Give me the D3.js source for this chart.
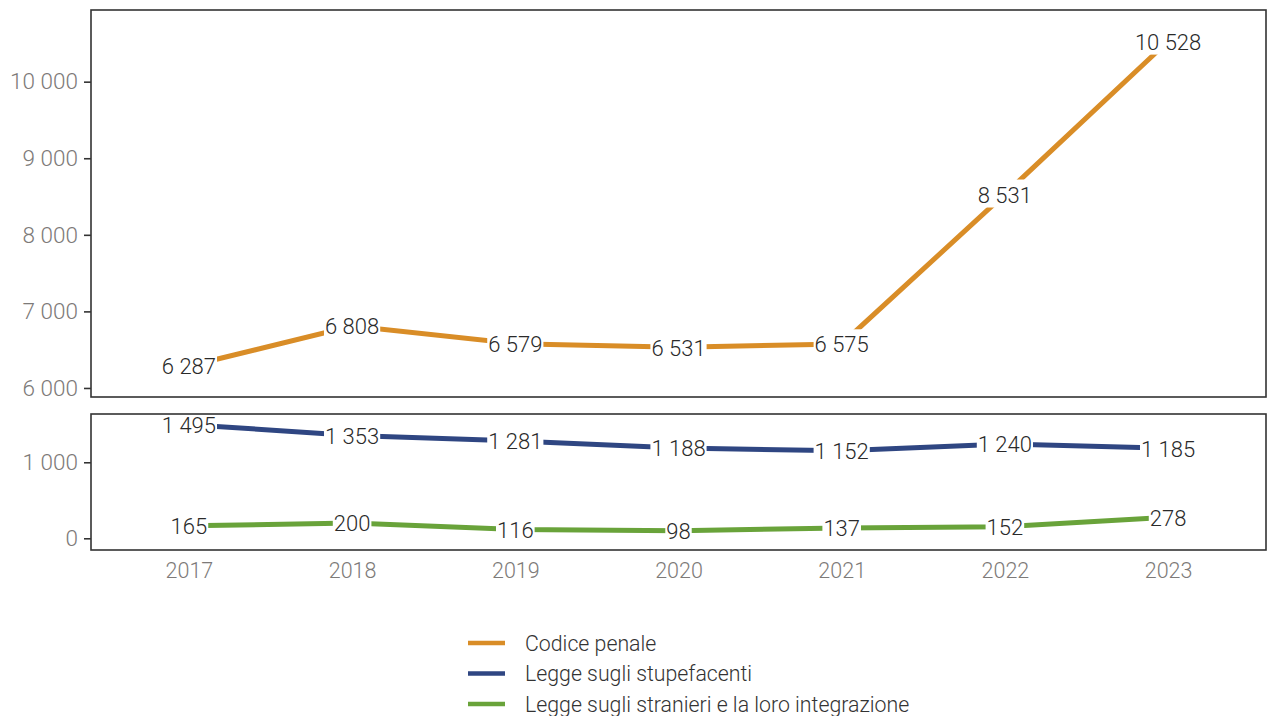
<!DOCTYPE html>
<html>
<head>
<meta charset="utf-8">
<script src="https://cdn.jsdelivr.net/npm/d3@7"></script>
<style>
  html, body { margin: 0; padding: 0; background: #fff; }
  svg { display: block; font-family: Roboto, "Noto Sans", sans-serif; }
</style>
</head>
<body>
<svg id="chart" width="1267" height="716"></svg>
<script>
// Years on the x axis
const years = ["2017", "2018", "2019", "2020", "2021", "2022", "2023"];

// Offences by law, one array per series
const codicePenale = [6287, 6808, 6579, 6531, 6575, 8531, 10528];
const stupefacenti = [1495, 1353, 1281, 1188, 1152, 1240, 1185];
const stranieri = [165, 200, 116, 98, 137, 152, 278];

const seriesNames = ["Codice penale", "Legge sugli stupefacenti", "Legge sugli stranieri e la loro integrazione"];
const seriesColors = ["#D98D27", "#2F4682", "#69A33A"];

// Tick values for each panel
const topTicks = [6000, 7000, 8000, 9000, 10000];
const bottomTicks = [0, 1000];

const svg = d3.select("#chart");
const fmt = v => d3.format(",")(v).replace(/,/g, " ");
const FONT = "Roboto, 'Noto Sans', sans-serif";

const left = 91, right = 1266;
const x = d3.scalePoint().domain(years).range([left, right]).padding(0.6);

// Two stacked panels sharing the same x scale
const panels = [
  { y: d3.scaleLinear().domain([5882, 10936]).range([397, 10]), ticks: topTicks,
    series: [{ values: codicePenale, color: seriesColors[0] }] },
  { y: d3.scaleLinear().domain([-154, 1635]).range([550, 414]), ticks: bottomTicks,
    series: [{ values: stupefacenti, color: seriesColors[1] },
             { values: stranieri, color: seriesColors[2] }] }
];

panels.forEach(p => {
  const [y0, y1] = p.y.range();
  const g = svg.append("g");

  // y axis
  const ax = g.append("g").attr("transform", `translate(${left},0)`)
    .call(d3.axisLeft(p.y).tickValues(p.ticks).tickFormat(fmt).tickSize(7).tickPadding(6))
    .attr("font-family", FONT).attr("font-size", null);
  ax.select(".domain").remove();
  ax.selectAll(".tick line").attr("stroke", "#333").attr("stroke-width", 1.6);
  ax.selectAll(".tick text").attr("fill", "#7d7a78").style("font-size", "22.5px").style("font-weight", 300);

  // lines
  const line = d3.line().x((d, i) => x(years[i])).y(d => p.y(d));
  p.series.forEach(s => {
    g.append("path").datum(s.values).attr("d", line)
      .attr("fill", "none").attr("stroke", s.color).attr("stroke-width", 5);
  });

  // value labels with a white box behind them
  p.series.forEach(s => {
    s.values.forEach((v, i) => {
      const lg = g.append("g").attr("transform", `translate(${x(years[i])},${p.y(v)})`);
      const rect = lg.append("rect").attr("fill", "#fff");
      const t = lg.append("text").text(fmt(v))
        .attr("text-anchor", "middle").attr("dy", "0.38em")
        .attr("fill", "#2a2a2a").style("font-size", "22px").style("font-weight", 300);
      const b = t.node().getBBox();
      rect.attr("x", b.x - 1).attr("width", b.width + 2)
        .attr("y", b.y - 3).attr("height", b.height + 3);
    });
  });

  // panel border
  g.append("rect").attr("x", left).attr("y", y1).attr("width", right - left).attr("height", y0 - y1)
    .attr("fill", "none").attr("stroke", "#333").attr("stroke-width", 1.6);
});

// x axis labels under the lower panel
const xa = svg.append("g").attr("transform", "translate(0,550)")
  .call(d3.axisBottom(x).tickSize(0).tickPadding(13))
  .attr("font-family", FONT).attr("font-size", null);
xa.select(".domain").remove();
xa.selectAll(".tick text").attr("fill", "#7d7a78").style("font-size", "21.5px").style("font-weight", 300);

// legend
const legend = svg.append("g").attr("transform", "translate(468,643)");
seriesNames.forEach((name, i) => {
  const row = legend.append("g").attr("transform", `translate(0,${i * 30.5})`);
  row.append("line").attr("x1", 0).attr("x2", 37).attr("y1", 0).attr("y2", 0)
    .attr("stroke", seriesColors[i]).attr("stroke-width", 4.5);
  row.append("text").attr("x", 57).attr("dy", "0.36em").text(name)
    .attr("fill", "#333").style("font-size", "21.3px").style("font-weight", 300);
});
</script>
</body>
</html>
